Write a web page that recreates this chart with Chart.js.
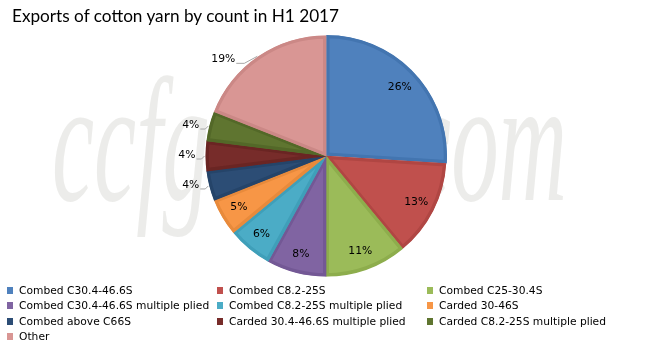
<!DOCTYPE html>
<html>
<head>
<meta charset="utf-8">
<script src="https://cdn.jsdelivr.net/npm/chart.js@4"></script>
<style>
  html, body { margin: 0; padding: 0; background: #fff; }
  #wrap { position: relative; width: 648px; height: 345px; overflow: hidden; }
  #title { position: absolute; left: 12px; top: 5px; font: 17.2px Lato, sans-serif; color: #000; white-space: nowrap; }
  #legend { position: absolute; left: 7px; top: 283px; width: 640px; font: 10.7px "DejaVu Sans", sans-serif; color: #000; }
  .item { position: absolute; white-space: nowrap; height: 15px; line-height: 15px; }
  .item span.box { display: inline-block; width: 6px; height: 7px; margin-right: 6px; vertical-align: 0px; }
  canvas { position: absolute; left: 0; top: 0; }
</style>
</head>
<body>
<div id="wrap">
  <canvas id="pie" width="648" height="345"></canvas>
  <div id="title">Exports of cotton yarn by count in H1 2017</div>
  <div id="legend"></div>
</div>
<script>
const categories = [
  "Combed C30.4-46.6S",
  "Combed C8.2-25S",
  "Combed C25-30.4S",
  "Combed C30.4-46.6S multiple plied",
  "Combed C8.2-25S multiple plied",
  "Carded 30-46S",
  "Combed above C66S",
  "Carded 30.4-46.6S multiple plied",
  "Carded C8.2-25S multiple plied",
  "Other"
];
const shares = [26, 13, 11, 8, 6, 5, 4, 4, 4, 19];

const fillColors = ["#4F81BD", "#C0504D", "#9BBB59", "#8064A2", "#4BACC6", "#F79646", "#2C4D75", "#772C2A", "#5F7530", "#D99694"];
const edgeColors = ["#4375B0", "#B04643", "#8DAD4C", "#735895", "#3F9FB9", "#E88A3B", "#254469", "#6A2523", "#536828", "#CB8886"];
// which data labels Excel put outside the pie
const labelOutside = [false, false, false, false, false, false, true, true, true, true];

// legend: 3 columns
const legend = document.getElementById("legend");
categories.forEach((name, i) => {
  const d = document.createElement("div");
  d.className = "item";
  d.style.left = (i % 3) * 210 + "px";
  d.style.top = Math.floor(i / 3) * 15.3 + "px";
  d.innerHTML = '<span class="box" style="background:' + fillColors[i] + '"></span>' + name;
  legend.appendChild(d);
});

const watermark = {
  id: "watermark",
  beforeDraw(chart) {
    const ctx = chart.ctx;
    const text = "ccfgroup.com";
    ctx.save();
    ctx.font = "italic 175px 'Liberation Serif', serif";
    const w = ctx.measureText(text).width;
    ctx.translate(52, 200);
    ctx.scale(515 / w, 1);
    ctx.fillStyle = "rgba(200,200,195,0.35)";
    ctx.fillText(text, 0, 0);
    ctx.restore();
  }
};

const pctLabels = {
  id: "pctLabels",
  afterDatasetsDraw(chart) {
    const ctx = chart.ctx;
    const meta = chart.getDatasetMeta(0);
    ctx.save();
    ctx.font = "10.8px 'DejaVu Sans', sans-serif";
    ctx.fillStyle = "#000";
    ctx.textBaseline = "middle";
    meta.data.forEach((arc, i) => {
      const { x, y, startAngle, endAngle, outerRadius } = arc.getProps(["x", "y", "startAngle", "endAngle", "outerRadius"], true);
      const mid = (startAngle + endAngle) / 2;
      const cx = Math.cos(mid), sy = Math.sin(mid);
      const text = shares[i] + "%";
      if (!labelOutside[i]) {
        ctx.textAlign = "center";
        ctx.fillText(text, x + cx * outerRadius * 0.84, y + sy * outerRadius * 0.84);
      } else {
        const ex = x + cx * outerRadius, ey = y + sy * outerRadius;
        const long = shares[i] > 10;
        const tx = ex - (long ? 22 : 9);
        const ty = ey + (long ? 3 : -1);
        ctx.strokeStyle = "#a6a6a6";
        ctx.lineWidth = 1;
        ctx.beginPath();
        ctx.moveTo(tx, ty + 4);
        ctx.lineTo(tx + (long ? 8 : 5), ty + 4);
        ctx.lineTo(ex - 1, ey);
        ctx.stroke();
        ctx.textAlign = "right";
        ctx.fillText(text, tx - 1, ty);
      }
    });
    ctx.restore();
  }
};

new Chart(document.getElementById("pie").getContext("2d"), {
  type: "pie",
  data: {
    labels: categories,
    datasets: [{
      data: shares,
      backgroundColor: fillColors,
      borderColor: edgeColors,
      borderWidth: 3,
      borderAlign: "inner",
      offset: [3, 0, 0, 0, 0, 0, 0, 0, 0, 0]
    }]
  },
  options: {
    responsive: false,
    animation: false,
    layout: { padding: { left: 204, right: 200, top: 34, bottom: 67 } },
    plugins: {
      legend: { display: false },
      title: { display: false },
      tooltip: { enabled: false }
    }
  },
  plugins: [watermark, pctLabels]
});
</script>
</body>
</html>
